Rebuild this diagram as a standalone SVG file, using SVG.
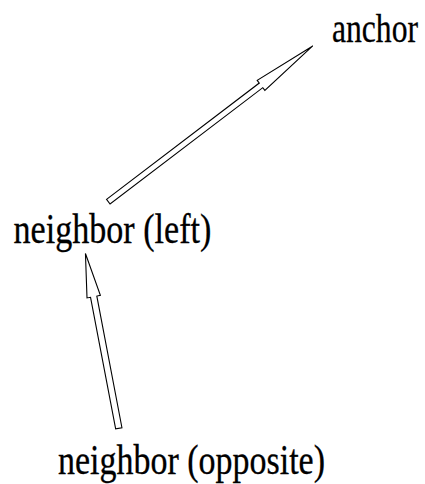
<svg xmlns="http://www.w3.org/2000/svg" width="425" height="484" viewBox="0 0 425 484">
<style>
.lbl{font-family:"Liberation Serif","Times New Roman",serif;font-size:42px;fill:#000;stroke:#000;stroke-width:0.3}
.arr{fill:#fff;stroke:#000;stroke-width:1.1;stroke-linejoin:miter}
</style>
<rect width="425" height="484" fill="#fff"/>
<g id="connectors">
<polygon class="arr" transform="translate(108.3,201.7) rotate(-37.3)" points="0,-2.9 192,-2.9 192,-6.3 257,0 192,6.3 192,2.9 0,2.9"/>
<polygon class="arr" transform="translate(118.8,428.3) rotate(-100.8)" points="0,-3.2 134,-3.2 134,-6.8 178,0 134,6.8 134,3.2 0,3.2"/>
</g>
<g id="anchor"><text class="lbl" transform="translate(332,41.5) scale(0.79,1)" x="0" y="0" style="font-size:40px">anchor</text></g>
<g id="neighbor-left"><text class="lbl" transform="translate(13.5,243) scale(0.812,1)" x="0" y="0">neighbor (left)</text></g>
<g id="neighbor-opposite"><text class="lbl" transform="translate(58,474) scale(0.809,1)" x="0" y="0">neighbor (opposite)</text></g>
</svg>
